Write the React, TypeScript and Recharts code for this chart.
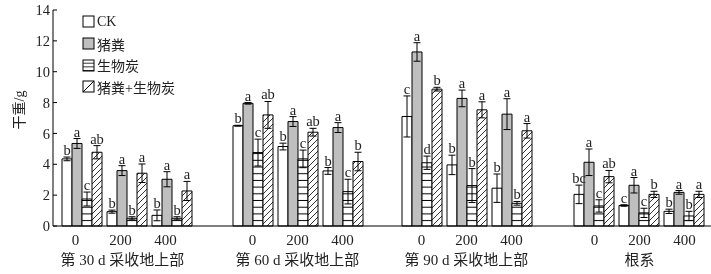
import React from 'react'
import { BarChart, Bar, XAxis, YAxis, ErrorBar, LabelList, Legend } from 'recharts'

// 4 harvest groups x 3 doses (0, 200, 400)
const groups = ['第 30 d 采收地上部', '第 60 d 采收地上部', '第 90 d 采收地上部', '根系']
const doses = ['0', '200', '400']
const seriesNames = ['CK', '猪粪', '生物炭', '猪粪+生物炭']
const yTicks = [0, 2, 4, 6, 8, 10, 12, 14]

const ck = [4.35, 0.93, 0.69, 6.5, 5.15, 3.57, 7.1, 3.96, 2.45, 2.05, 1.33, 0.95]
const ckErr = [0.12, 0.1, 0.35, 0.03, 0.22, 0.22, 1.33, 0.63, 0.92, 0.6, 0.05, 0.14]
const ckSig = ['b', 'b', 'b', 'b', 'b', 'b', 'c', 'b', 'b', 'bc', 'c', 'b']

const pig = [5.35, 3.59, 3.03, 7.95, 6.77, 6.38, 11.28, 8.27, 7.25, 4.13, 2.64, 2.18]
const pigErr = [0.32, 0.32, 0.49, 0.05, 0.32, 0.32, 0.6, 0.54, 1.0, 0.86, 0.5, 0.12]
const pigSig = ['a', 'a', 'a', 'a', 'a', 'a', 'a', 'a', 'a', 'a', 'a', 'a']

const bio = [1.75, 0.5, 0.5, 4.76, 4.35, 2.23, 4.1, 2.62, 1.47, 1.3, 0.85, 0.65]
const bioErr = [0.45, 0.1, 0.1, 0.87, 0.57, 0.8, 0.43, 1.1, 0.12, 0.4, 0.3, 0.3]
const bioSig = ['c', 'b', 'b', 'c', 'c', 'c', 'd', 'b', 'b', 'c', 'c', 'b']

const mix = [4.78, 3.42, 2.27, 7.2, 6.08, 4.18, 8.87, 7.53, 6.17, 3.2, 2.05, 2.05]
const mixErr = [0.43, 0.6, 0.62, 0.87, 0.25, 0.6, 0.12, 0.52, 0.47, 0.4, 0.2, 0.2]
const mixSig = ['ab', 'a', 'a', 'ab', 'ab', 'b', 'b', 'a', 'a', 'ab', 'b', 'a']

const keys = ['ck', 'pig', 'bio', 'mix']
const fills = ['#ffffff', '#bfbfbf', 'url(#hline)', 'url(#diag)']
const legendFills = ['#ffffff', '#bfbfbf', 'url(#hline-lg)', 'url(#diag-lg)']

// chart pieces laid side by side
const widths = [211, 171, 170, 159]
const pads = [[6, 17], [19, 17], [17, 18], [19, 5]]
const tickDx = [-6, 0, 0, 1]
const labelDx = [-4, 0, 0, 1]

const FONT = "'Liberation Serif', 'Noto Sans CJK SC', serif"
const INK = '#222'

const rowsFor = (gi: number) =>
  doses.map((d, di) => {
    const i = gi * 3 + di
    return {
      dose: d,
      ck: ck[i], ckErr: ckErr[i], ckSig: ckSig[i],
      pig: pig[i], pigErr: pigErr[i], pigSig: pigSig[i],
      bio: bio[i], bioErr: bioErr[i], bioSig: bioSig[i],
      mix: mix[i], mixErr: mixErr[i], mixSig: mixSig[i],
    }
  })

const sigLabel = (rows: any[], key: string) => (p: any) => {
  const row = rows[p.index]
  if (!row) return null
  const v = row[key]
  const err = row[key + 'Err']
  const top = p.y - err * (p.height / v)
  return (
    <text x={p.x + p.width / 2} y={top - 2} textAnchor="middle" fontSize={14.5} fontFamily={FONT} fill={INK}>
      {row[key + 'Sig']}
    </text>
  )
}

const LegendBox = () => (
  <div style={{ fontFamily: FONT, fontSize: 14, color: INK }}>
    {seriesNames.map((n, i) => (
      <div key={n} style={{ display: 'flex', alignItems: 'center', height: 21.7 }}>
        <svg width={13} height={13} style={{ marginRight: 2 }}>
          <rect x={1} y={1} width={11} height={11} fill={legendFills[i]} stroke="#000" strokeWidth={1} />
        </svg>
        <span>{n}</span>
      </div>
    ))}
  </div>
)

function Panel({ gi }: { gi: number }) {
  const rows = rowsFor(gi)
  const [pl, pr] = pads[gi]
  const first = gi === 0
  return (
    <BarChart
      width={widths[gi]}
      height={274}
      data={rows}
      margin={{ top: 10, right: 0, bottom: 0, left: 0 }}
      barGap={0}
      barSize={10}
    >
      <XAxis
        dataKey="dose"
        type="category"
        interval={0}
        tickLine={false}
        tickSize={0}
        tickMargin={0}
        height={48}
        padding={{ left: pl, right: pr }}
        axisLine={{ stroke: '#000', strokeWidth: 1 }}
        tick={(p: any) => (
          <text x={p.x + tickDx[gi]} y={p.y + 19} textAnchor="middle" fontSize={15} fill={INK} fontFamily={FONT}>
            {p.payload.value}
          </text>
        )}
        label={(p: any) => {
          const vb = p.viewBox
          const cx = vb.x + pl + (vb.width - pl - pr) / 2 + labelDx[gi]
          return (
            <text x={cx} y={vb.y + 39} textAnchor="middle" fontSize={15} fill={INK} fontFamily={FONT}>
              {groups[gi]}
            </text>
          )
        }}
      />
      {first ? (
        <YAxis
          domain={[0, 14]}
          ticks={yTicks}
          interval={0}
          width={53}
          tickSize={-4}
          tickMargin={7}
          axisLine={{ stroke: '#000', strokeWidth: 1 }}
          tickLine={{ stroke: '#000', strokeWidth: 1 }}
          tick={{ fontSize: 14.5, fill: INK, fontFamily: FONT }}
          label={(p: any) => {
            const vb = p.viewBox
            const x = vb.x + 19
            const y = 110
            return (
              <text x={x} y={y} transform={`rotate(-90 ${x} ${y})`} textAnchor="middle" dominantBaseline="central" fontSize={14} fill={INK} fontFamily={FONT}>
                干重/g
              </text>
            )
          }}
        />
      ) : (
        <YAxis hide domain={[0, 14]} ticks={yTicks} />
      )}
      {first && (
        <Legend
          layout="vertical"
          align="center"
          verticalAlign="middle"
          content={() => <LegendBox />}
          wrapperStyle={{ left: 82, top: 11, width: 'auto', height: 'auto' }}
        />
      )}
      {keys.map((k, i) => (
        <Bar key={k} dataKey={k} fill={fills[i]} stroke="#000" strokeWidth={1} isAnimationActive={false}>
          <ErrorBar dataKey={k + 'Err'} width={3.5} stroke="#000" strokeWidth={1} />
          <LabelList dataKey={k + 'Sig'} content={sigLabel(rows, k)} />
        </Bar>
      ))}
    </BarChart>
  )
}

export default function App() {
  return (
    <div style={{ position: 'absolute', left: 0, top: 0, width: 711, height: 274, fontFamily: FONT, willChange: 'transform' }}>
      <svg width={0} height={0} style={{ position: 'absolute' }}>
        <defs>
          <pattern id="hline" patternUnits="userSpaceOnUse" width={10} height={6.7}>
            <rect width={10} height={6.7} fill="#fff" />
            <line x1={0} y1={6.2} x2={10} y2={6.2} stroke="#000" strokeWidth={1} />
          </pattern>
          <pattern id="diag" patternUnits="userSpaceOnUse" width={6} height={6}>
            <rect width={6} height={6} fill="#fff" />
            <path d="M-1,1 L1,-1 M0,6 L6,0 M5,7 L7,5" stroke="#000" strokeWidth={0.8} />
          </pattern>
          <pattern id="hline-lg" patternUnits="userSpaceOnUse" width={13} height={3.7}>
            <rect width={13} height={3.7} fill="#fff" />
            <line x1={0} y1={0.3} x2={13} y2={0.3} stroke="#000" strokeWidth={1} />
          </pattern>
          <pattern id="diag-lg" patternUnits="userSpaceOnUse" width={13} height={13}>
            <rect width={13} height={13} fill="#fff" />
            <path d="M1,12 L12,1" stroke="#000" strokeWidth={1} />
          </pattern>
        </defs>
      </svg>
      <div style={{ display: 'flex' }}>
        {groups.map((g, gi) => (
          <Panel key={g} gi={gi} />
        ))}
      </div>
    </div>
  )
}
